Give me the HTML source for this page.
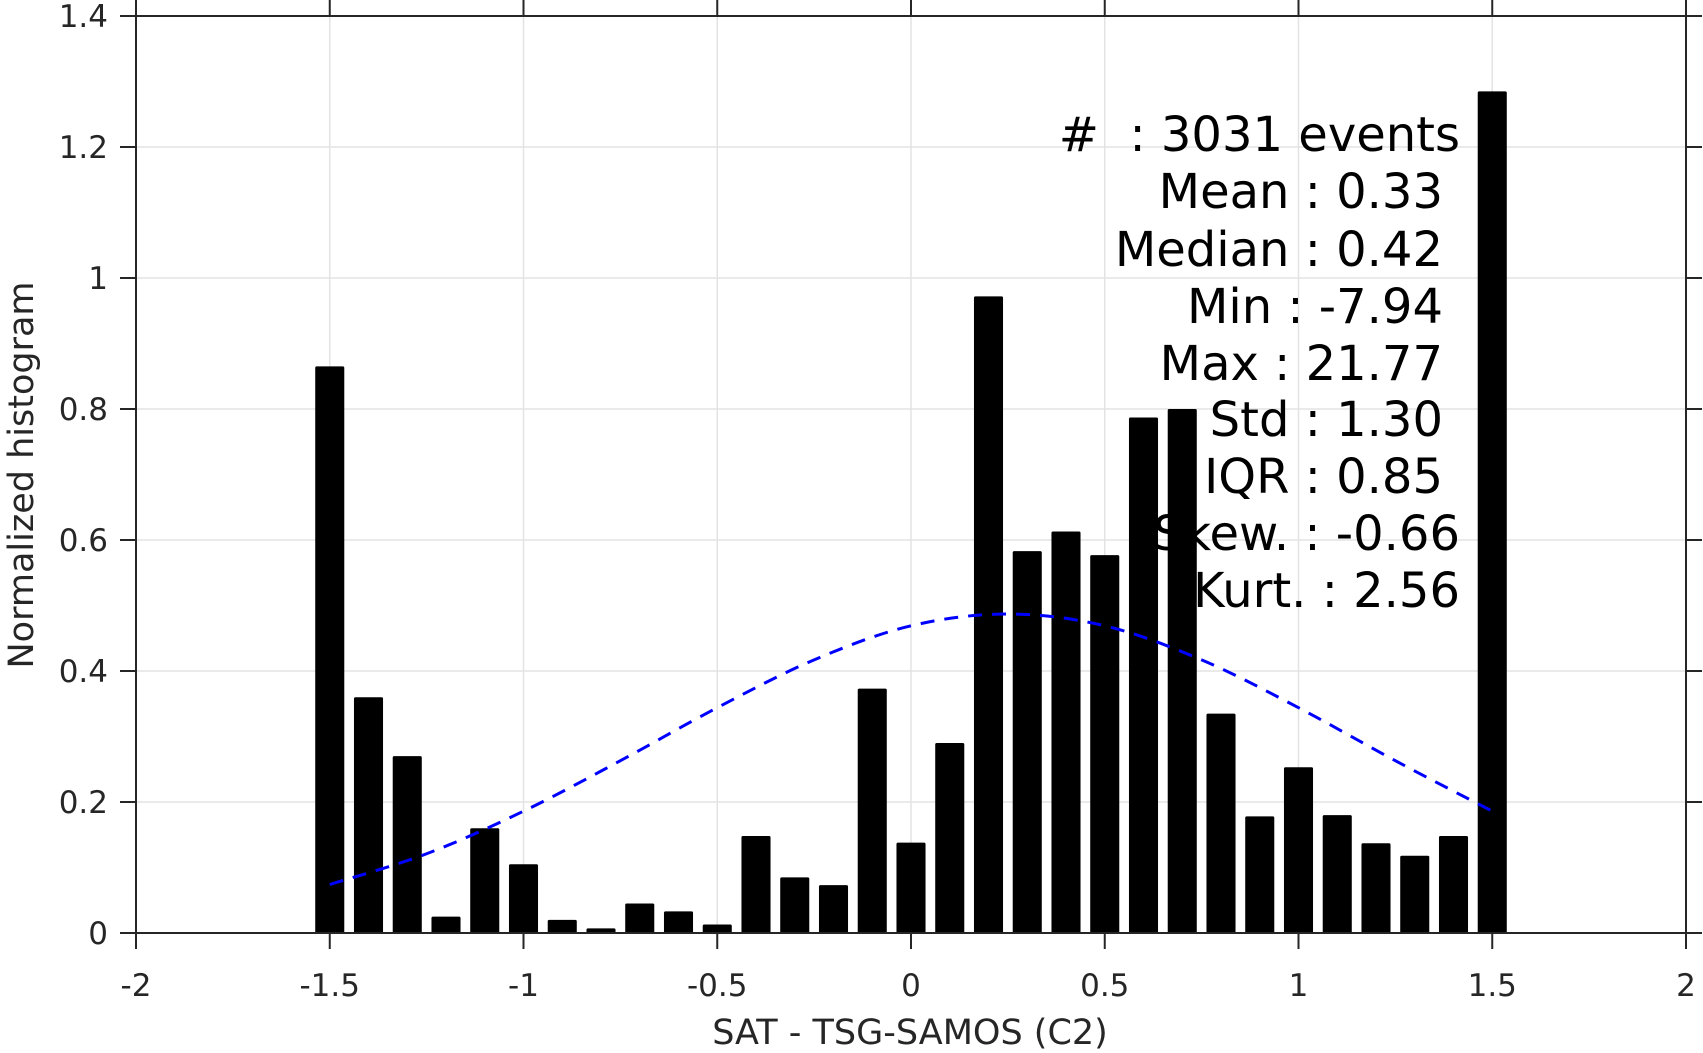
<!DOCTYPE html>
<html><head><meta charset="utf-8"><style>
html,body{margin:0;padding:0;background:#fff;}
svg{display:block;font-family:"DejaVu Sans","Liberation Sans",sans-serif;}
</style></head><body>
<svg id="chart" width="1703" height="1053" viewBox="0 0 1703 1053">
<g id="grid"></g>
<g id="stats" font-size="48" fill="#000" text-anchor="end">
<text x="1460" y="151">#&#160;&#160;: 3031 events</text>
<text x="1443" y="208">Mean : 0.33</text>
<text x="1443" y="266">Median : 0.42</text>
<text x="1443" y="323">Min : -7.94</text>
<text x="1443" y="380">Max : 21.77</text>
<text x="1443" y="436">Std : 1.30</text>
<text x="1443" y="493">IQR : 0.85</text>
<text x="1460" y="550">Skew. : -0.66</text>
<text x="1460" y="607">Kurt. : 2.56</text>
</g>
<g id="bars"></g>
<path id="curve" fill="none" stroke="#0000ff" stroke-width="3" stroke-dasharray="14,10"/>
<g id="axes"></g>
<text x="910" y="1044" text-anchor="middle" font-size="35" fill="#262626">SAT - TSG-SAMOS (C2)</text>
<text transform="translate(33,475) rotate(-90)" text-anchor="middle" font-size="35" fill="#262626">Normalized histogram</text>
</svg>
<script>
const binCenters=[-1.5,-1.4,-1.3,-1.2,-1.1,-1.0,-0.9,-0.8,-0.7,-0.6,-0.5,-0.4,-0.3,-0.2,-0.1,0,0.1,0.2,0.3,0.4,0.5,0.6,0.7,0.8,0.9,1.0,1.1,1.2,1.3,1.4,1.5];
const binValues=[0.865,0.36,0.27,0.025,0.16,0.105,0.02,0.007,0.045,0.033,0.013,0.148,0.085,0.073,0.373,0.138,0.29,0.972,0.583,0.613,0.577,0.787,0.8,0.335,0.178,0.253,0.18,0.137,0.118,0.148,1.285];
const curveX=[-1.5,-1.25,-1.0,-0.75,-0.5,-0.25,0,0.25,0.5,0.75,1.0,1.25,1.5];
const curveY=[0.074,0.121,0.186,0.263,0.344,0.417,0.469,0.487,0.469,0.417,0.344,0.263,0.186];
const xTicks=[-2,-1.5,-1,-0.5,0,0.5,1,1.5,2];
const xTickLabels=["-2","-1.5","-1","-0.5","0","0.5","1","1.5","2"];
const yTicks=[0,0.2,0.4,0.6,0.8,1,1.2,1.4];
const yTickLabels=["0","0.2","0.4","0.6","0.8","1","1.2","1.4"];

const L=136,R=1686,T=16,B=933,xMin=-2,xMax=2,yMin=0,yMax=1.4;
const sx=v=>L+(v-xMin)/(xMax-xMin)*(R-L);
const sy=v=>B-(v-yMin)/(yMax-yMin)*(B-T);
const NS="http://www.w3.org/2000/svg";
function mk(tag,attrs,parent){const e=document.createElementNS(NS,tag);for(const k in attrs)e.setAttribute(k,attrs[k]);parent.appendChild(e);return e;}
const grid=document.getElementById('grid'),bars=document.getElementById('bars'),axes=document.getElementById('axes');

xTicks.forEach((t,i)=>{
  if(i>0&&i<xTicks.length-1){const g=mk('line',{x1:sx(t),x2:sx(t),y1:T,y2:B,stroke:'#e3e3e3','stroke-width':1.5},grid);
  
  }
});
yTicks.forEach((t,i)=>{
  if(i>0&&i<yTicks.length-1){const g=mk('line',{x1:L,x2:R,y1:sy(t),y2:sy(t),stroke:'#e3e3e3','stroke-width':1.5},grid);
  
  }
});

const bw=(R-L)/(xMax-xMin)*0.075;
binCenters.forEach((c,i)=>{
  const v=binValues[i];
  const r=mk('rect',{x:sx(c)-bw/2,y:sy(v),width:bw,height:sy(0)-sy(v),fill:'#000',rx:1.5},bars);
  
  
});

// Catmull-Rom smooth curve through sample points
const pts=curveX.map((x,i)=>[sx(x),sy(curveY[i])]);
let d='M'+pts[0][0]+','+pts[0][1];
for(let i=0;i<pts.length-1;i++){
  const p0=pts[Math.max(i-1,0)],p1=pts[i],p2=pts[i+1],p3=pts[Math.min(i+2,pts.length-1)];
  d+=' C'+(p1[0]+(p2[0]-p0[0])/6)+','+(p1[1]+(p2[1]-p0[1])/6)+' '+(p2[0]-(p3[0]-p1[0])/6)+','+(p2[1]-(p3[1]-p1[1])/6)+' '+p2[0]+','+p2[1];
}
document.getElementById('curve').setAttribute('d',d);

// axes box
mk('rect',{x:L,y:T,width:R-L,height:B-T,fill:'none',stroke:'#262626','stroke-width':2},axes);
xTicks.forEach((t,i)=>{
  mk('line',{x1:sx(t),x2:sx(t),y1:B,y2:B+16,stroke:'#262626','stroke-width':2},axes);
  mk('line',{x1:sx(t),x2:sx(t),y1:T,y2:T-16,stroke:'#262626','stroke-width':2},axes);
  const tx=mk('text',{x:sx(t),y:996,'text-anchor':'middle','font-size':31,fill:'#262626'},axes);
  tx.textContent=xTickLabels[i];
  
  
});
yTicks.forEach((t,i)=>{
  mk('line',{x1:L-16,x2:L,y1:sy(t),y2:sy(t),stroke:'#262626','stroke-width':2},axes);
  mk('line',{x1:R,x2:R+16,y1:sy(t),y2:sy(t),stroke:'#262626','stroke-width':2},axes);
  const ty=mk('text',{x:108,y:sy(t)+11,'text-anchor':'end','font-size':31,fill:'#262626'},axes);
  ty.textContent=yTickLabels[i];
  
  
});
</script>
</body></html>
